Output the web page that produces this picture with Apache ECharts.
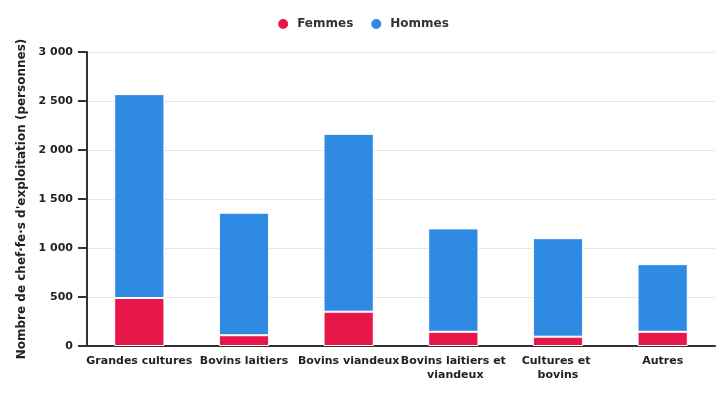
<!DOCTYPE html>
<html>
<head>
<meta charset="utf-8">
<script src="https://cdn.jsdelivr.net/npm/echarts@6/dist/echarts.min.js"></script>
<style>
  html, body { margin: 0; padding: 0; background: #fff; }
  #chart { width: 725px; height: 400px; }
</style>
</head>
<body>
<div id="chart"></div>
<script>
// données
const categories = ['Grandes cultures', 'Bovins laitiers', 'Bovins viandeux', 'Bovins laitiers et viandeux', 'Cultures et bovins', 'Autres'];
const femmes = [490, 110, 350, 145, 95, 145];
const hommes = [2080, 1250, 1815, 1055, 1005, 690];

const chart = echarts.init(document.getElementById('chart'));

const fmt = v => String(v).replace(/\B(?=(\d{3})+(?!\d))/g, ' ');

const option = {
  textStyle: { fontFamily: 'DejaVu Sans' },
  legend: {
    top: 12,
    left: 'center',
    icon: 'circle',
    itemWidth: 12,
    itemHeight: 12,
    itemGap: 16,
    textStyle: { fontWeight: 'bold', fontSize: 12, color: '#333', padding: [0, 0, 0, 3] },
    data: ['Femmes', 'Hommes']
  },
  grid: { left: 87, right: 10, top: 52, bottom: 54 },
  xAxis: {
    type: 'category',
    data: categories,
    axisLine: { lineStyle: { color: '#333', width: 2 } },
    axisTick: { show: false },
    axisLabel: {
      interval: 0,
      fontSize: 11,
      fontWeight: 'bold',
      color: '#222',
      width: 108,
      overflow: 'break',
      lineHeight: 14,
      margin: 8
    }
  },
  yAxis: {
    type: 'value',
    min: 0,
    max: 3000,
    interval: 500,
    name: "Nombre de chef·fe·s d'exploitation (personnes)",
    nameLocation: 'middle',
    nameGap: 58,
    nameTextStyle: { fontWeight: 'bold', fontSize: 12, color: '#222' },
    axisLine: { show: true, lineStyle: { color: '#333', width: 2 } },
    axisTick: { show: true, length: 9, lineStyle: { color: '#333', width: 2 } },
    axisLabel: { fontSize: 11, fontWeight: 'bold', color: '#222', margin: 14, formatter: fmt },
    splitLine: { lineStyle: { color: '#e6e6e6' } }
  },
  series: [
    {
      name: 'Femmes',
      type: 'bar',
      stack: 'total',
      barWidth: '48%',
      data: femmes,
      itemStyle: { color: '#e8174a', borderColor: '#fff', borderWidth: 1 }
    },
    {
      name: 'Hommes',
      type: 'bar',
      stack: 'total',
      data: hommes,
      itemStyle: { color: '#2e8ae2', borderColor: '#fff', borderWidth: 1 }
    }
  ]
};

chart.setOption(option);
</script>
</body>
</html>
